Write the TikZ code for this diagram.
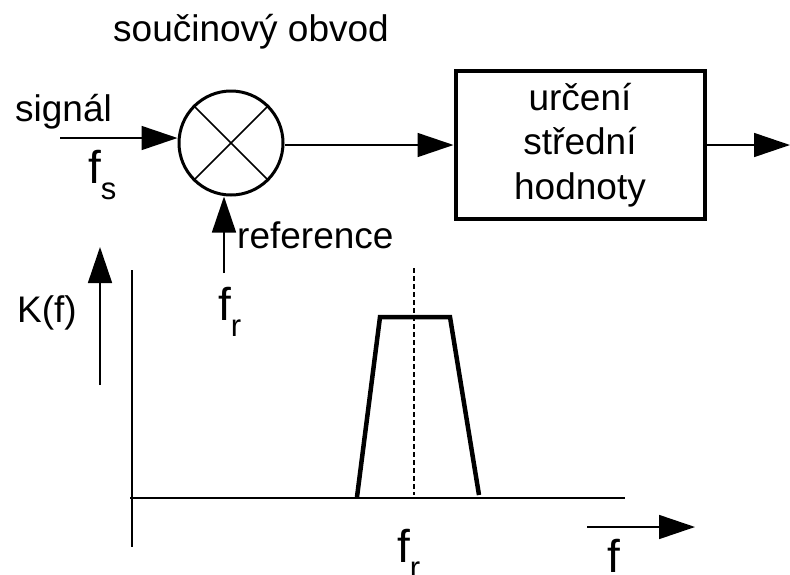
\documentclass[tikz,border=0pt]{standalone}
\usepackage{fontspec}
\setmainfont{Liberation Sans}
\usetikzlibrary{arrows.meta}
\begin{document}
\begin{tikzpicture}[x=1pt,y=-1pt,
  txt/.style={font=\fontsize{37}{44.5}\selectfont, inner sep=0pt, anchor=base west},
  flab/.style={font=\fontsize{46}{50}\selectfont, inner sep=0pt, anchor=base west},
  thin/.style={line width=1.6pt},
  arr/.style={thin, -{Triangle[length=36pt,width=24pt]}},
  ]
\useasboundingbox (0,0) rectangle (790,574);
\newcommand{\subl}[1]{{\fontsize{31}{31}\selectfont\raisebox{-16pt}{#1}}}
% texts
\node[txt] (title) at (113,41) {součinový obvod};
\node[txt] (sig) at (15,121) {signál};
\node[flab] (fs) at (88,183) {f\subl{s}};
\node[txt] (ref) at (237,248) {reference};
\node[flab] (fr1) at (218,320) {f\subl{r}};
\node[txt] (kf) at (17,322) {K(f)};
\node[flab] (fr2) at (397,562) {f\subl{r}};
\node[flab] (flab) at (607,572) {f};
% multiplier
\node[draw, circle, line width=3pt, minimum size=104pt, inner sep=0pt] (mult) at (231,143) {};
\draw[thin] (mult.45) -- (mult.225);
\draw[thin] (mult.135) -- (mult.315);
% box
\node[draw, line width=4pt, minimum width=249pt, minimum height=148pt, inner sep=0pt,
  align=center, font=\fontsize{37}{44.5}\selectfont] (box) at (580,145)
  {určení\\střední\\hodnoty};
% connectors
\coordinate (sigin) at (60,138);
\draw[arr] (sigin) -- (sigin -| mult.west);
\coordinate (refin) at (224,273);
\draw[arr] (refin) -- (refin |- mult.south);
\draw[arr] (mult.east |- box.west) -- (box.west);
\coordinate (out) at (790,145);
\draw[arr] (box.east) -- (out);
% graph
\coordinate (ka) at (100,385);
\coordinate (kb) at (100,247);
\draw[arr] (ka) -- (kb);
\coordinate (ya) at (132,270);
\coordinate (yb) at (132,547);
\draw[thin] (ya) -- (yb);
\coordinate (xa) at (130,498);
\coordinate (xb) at (625,498);
\draw[thin] (xa) -- (xb);
\draw[line width=4.5pt, line join=miter] (357,497) -- (380,317) -- (450,317) -- (479,495);
\draw[thin, dash pattern=on 5pt off 3pt] (414,268) -- (414,495);
\coordinate (fa) at (587,527);
\coordinate (fb) at (695,527);
\draw[arr] (fa) -- (fb);
\end{tikzpicture}
\end{document}
